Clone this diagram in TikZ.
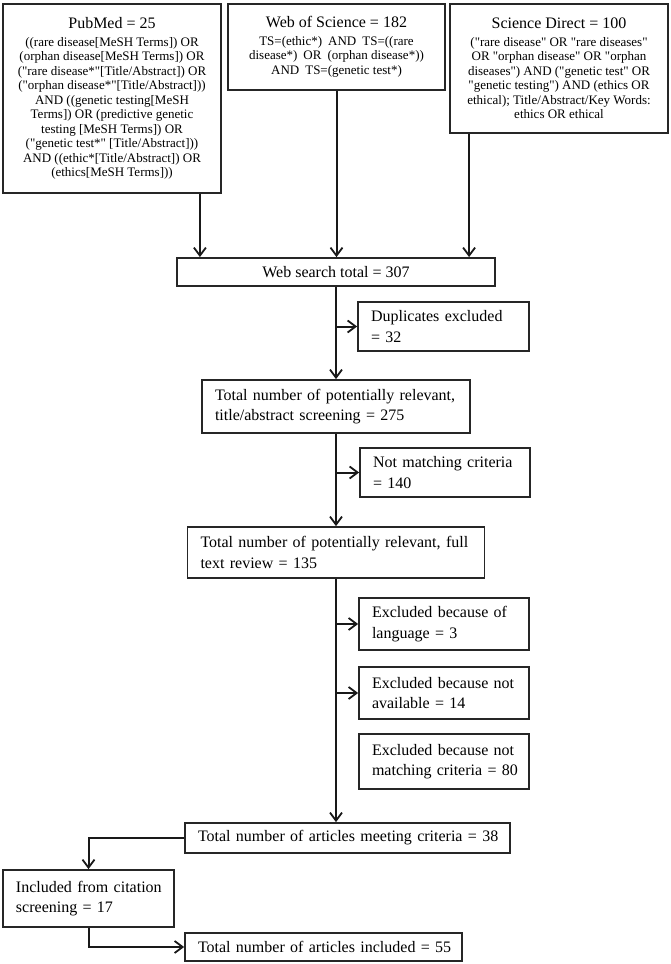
\documentclass[tikz,border=0pt]{standalone}
\usepackage{fontspec}
\setmainfont{Liberation Serif}[Ligatures=TeXOff]
\usetikzlibrary{arrows.meta}
\newcommand{\ml}[1]{\mbox{#1}}
\hfuzz=100pt
\begin{document}
\begin{tikzpicture}[x=1pt,y=-1pt,
  box/.style={draw=black!85, line width=1.8pt, rectangle, inner ysep=0pt, fill=white},
  mainbox/.style={box, inner xsep=13pt, align=left, font=\fontsize{16}{20.5}\selectfont},
  topbox/.style={box, inner xsep=4pt, align=center, font=\fontsize{13}{14.5}\selectfont},
  arr/.style={line width=2pt, draw=black!90, -{Straight Barb[length=8pt,width=12pt,line width=1.8pt]}}]
\useasboundingbox (0,0) rectangle (671,964);
% top boxes
\node[topbox, minimum width=218, minimum height=189] (pm) at (112,98.5)
 {{\fontsize{16}{20}\selectfont PubMed = 25}\\[3pt]
  ((rare disease[MeSH Terms]) OR\\
  (orphan disease[MeSH Terms]) OR\\
  ("rare disease*"[Title/Abstract]) OR\\
  ("orphan disease*"[Title/Abstract]))\\
  AND ((genetic testing[MeSH\\
  Terms]) OR (predictive genetic\\
  testing [MeSH Terms]) OR\\
  ("genetic test*" [Title/Abstract]))\\
  AND ((ethic*[Title/Abstract]) OR\\
  (ethics[MeSH Terms]))};
\node[topbox, minimum width=217, minimum height=86] (wos) at (336.5,47)
 {{\fontsize{16}{20}\selectfont Web of Science = 182}\\[3pt]
  TS=(ethic*)\hspace{6pt}AND\hspace{6pt}TS=((rare\\
  disease*)\hspace{6pt}OR\hspace{6pt}(orphan disease*))\\
  AND\hspace{6pt}TS=(genetic test*)};
\node[topbox, minimum width=218, minimum height=129] (sd) at (559,68.5)
 {{\fontsize{16}{20}\selectfont Science Direct = 100}\\[3pt]
  ("rare disease" OR "rare diseases"\\
  OR "orphan disease" OR "orphan\\
  diseases") AND ("genetic test" OR\\
  "genetic testing") AND (ethics OR\\
  ethical); Title/Abstract/Key Words:\\
  ethics OR ethical};
% main flow
\node[box, font=\fontsize{16}{20.5}\selectfont, minimum width=318, minimum height=28] (web) at (336,272) {Web search total = 307};
\node[mainbox, text width=145, minimum height=49] (dup) at (443.5,326.5) {\ml{Duplicates excluded}\\\ml{= 32}};
\node[mainbox, text width=242, minimum height=53] (t275) at (336,406.5) {\ml{Total number of potentially relevant,}\\\ml{title/abstract screening = 275}};
\node[mainbox, text width=144, minimum height=49] (nm) at (445,472.5) {\ml{Not matching criteria}\\\ml{= 140}};
\node[mainbox, text width=271, minimum height=51] (t135) at (336,552.5) {\ml{Total number of potentially relevant, full}\\\ml{text review = 135}};
\node[mainbox, text width=144, minimum height=52] (lang) at (444,624) {\ml{Excluded because of}\\\ml{language = 3}};
\node[mainbox, text width=144, minimum height=52] (na) at (444,693) {\ml{Excluded because not}\\\ml{available = 14}};
\node[mainbox, text width=144, minimum height=55] (nmc) at (444,761.5) {\ml{Excluded because not}\\\ml{matching criteria = 80}};
\node[mainbox, text width=299, minimum height=30] (t38) at (347.5,838) {\ml{Total number of articles meeting criteria = 38}};
\node[mainbox, text width=145, minimum height=57] (inc) at (88.5,898.5) {\ml{Included from citation}\\\ml{screening = 17}};
\node[mainbox, text width=251, minimum height=28] (t55) at (323.5,947) {\ml{Total number of articles included = 55}};
% connectors
\draw[arr] ([xshift=-22pt]pm.south east) -- ([xshift=-22pt]pm.south east |- web.north);
\draw[arr] (wos.south) -- (wos.south |- web.north);
\draw[arr] ([xshift=20pt]sd.south west) -- ([xshift=20pt]sd.south west |- web.north);
\draw[arr] (web.south) -- (t275.north);
\draw[arr] (web.south |- dup.west) -- (dup.west);
\draw[arr] (t275.south) -- (t135.north);
\draw[arr] (t275.south |- nm.west) -- (nm.west);
\draw[arr] (t135.south) -- (t135.south |- t38.north);
\draw[arr] (t135.south |- lang.west) -- (lang.west);
\draw[arr] (t135.south |- na.west) -- (na.west);
\draw[arr] (t38.west) -| (inc.north);
\draw[arr] (inc.south) |- (t55.west);
\end{tikzpicture}
\end{document}
